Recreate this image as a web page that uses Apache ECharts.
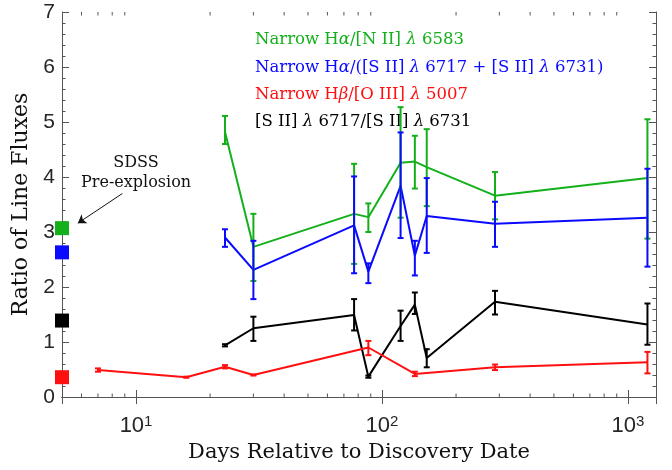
<!DOCTYPE html>
<html>
<head>
<meta charset="utf-8">
<script src="https://cdn.jsdelivr.net/npm/echarts@6/dist/echarts.min.js"></script>
<style>
  html, body { margin: 0; padding: 0; background: #fff; }
  #chart { width: 672px; height: 470px; }
</style>
</head>
<body>
<div id="chart"></div>
<script>
// days since discovery
const days = [23, 30, 77, 88, 119, 136, 152, 288, 1200]
const redDays = [7, 16, 23, 30, 88, 136, 288, 1200]

// Narrow Ha/[N II]
const greenVals = [4.82, 2.73, 3.33, 3.27, 4.26, 4.28, 4.18, 3.66, 3.98]
const greenLo = [4.60, 2.11, 2.42, 3.00, 3.26, 3.79, 3.47, 3.23, 2.88]
const greenHi = [5.11, 3.33, 4.24, 3.52, 5.27, 4.75, 4.87, 4.09, 5.05]

// Narrow Ha/([S II]+[S II])
const blueVals = [2.90, 2.31, 3.12, 2.28, 3.84, 2.57, 3.29, 3.15, 3.26]
const blueLo = [2.73, 1.78, 2.25, 2.07, 2.89, 2.21, 2.62, 2.73, 2.37]
const blueHi = [3.05, 2.84, 4.01, 2.43, 4.81, 2.84, 3.98, 3.55, 4.15]

// [S II]/[S II]
const blackVals = [0.94, 1.25, 1.49, 0.37, 1.29, 1.68, 0.71, 1.73, 1.32]
const blackLo = [0.92, 1.02, 1.21, 0.35, 1.02, 1.51, 0.54, 1.50, 0.95]
const blackHi = [0.96, 1.46, 1.78, 0.39, 1.57, 1.90, 0.87, 1.93, 1.70]

// Narrow Hb/[O III]
const redVals = [0.49, 0.36, 0.55, 0.40, 0.90, 0.42, 0.54, 0.63]
const redLo = [0.46, 0.35, 0.52, 0.39, 0.76, 0.38, 0.49, 0.43]
const redHi = [0.52, 0.37, 0.58, 0.41, 1.02, 0.46, 0.59, 0.82]

// SDSS pre-explosion values (green, blue, black, red)
const sdssDay = 5
const sdssVals = [3.07, 2.63, 1.39, 0.36]

const seriesNames = [
  'Narrow Hα/[N II] λ 6583',
  'Narrow Hα/([S II] λ 6717 + [S II] λ 6731)',
  'Narrow Hβ/[O III] λ 5007',
  '[S II] λ 6717/[S II] λ 6731'
]
const colors = ['#13b01c', '#0a0aff', '#ff1010', '#000000']

const yTicks = [0, 1, 2, 3, 4, 5, 6, 7]
const xMinorTicks = [6, 7, 8, 9, 20, 30, 40, 50, 60, 70, 80, 90, 200, 300, 400, 500, 600, 700, 800, 900]

const serif = '"DejaVu Serif", serif'
const sans = '"Liberation Sans", Arial, sans-serif'
const axisColor = '#555'
const labelColor = '#262626'

const pairs = (xs, ys) => xs.map((x, i) => [x, ys[i]])
const bars = (xs, lo, hi) => xs.map((x, i) => [x, lo[i], hi[i]])

const lineSeries = (name, color, data) => ({
  name,
  type: 'line',
  data,
  symbol: 'none',
  lineStyle: { color, width: 2 },
  itemStyle: { color },
  z: 3
})

const errorSeries = (color, data) => ({
  type: 'custom',
  data,
  encode: { x: 0, y: [1, 2] },
  z: 4,
  renderItem: (params, api) => {
    const x = api.value(0)
    const top = api.coord([x, api.value(2)])
    const bot = api.coord([x, api.value(1)])
    const w = 3
    const style = { stroke: color, lineWidth: 2 }
    return {
      type: 'group',
      children: [
        { type: 'line', shape: { x1: top[0], y1: top[1], x2: bot[0], y2: bot[1] }, style },
        { type: 'line', shape: { x1: top[0] - w, y1: top[1], x2: top[0] + w, y2: top[1] }, style },
        { type: 'line', shape: { x1: bot[0] - w, y1: bot[1], x2: bot[0] + w, y2: bot[1] }, style }
      ]
    }
  }
})

const legendRich = {}
colors.forEach((c, i) => {
  legendRich['i' + i] = { color: c, fontFamily: serif, fontSize: 16.5, fontStyle: 'italic', lineHeight: 20 }
})

const xLabel = (v) => {
  const e = Math.round(Math.log10(v))
  if (Math.abs(v - Math.pow(10, e)) > 1e-6 || e < 1) return ''
  return '{b|10}{s|' + e + '}'
}

const chart = echarts.init(document.getElementById('chart'))

chart.setOption({
  animation: false,
  grid: { left: 62, right: 16, top: 12, bottom: 73 },
  legend: {
    orient: 'vertical',
    left: 245,
    top: 25,
    icon: 'none',
    itemWidth: 0,
    itemHeight: 20,
    itemGap: 7.3,
    selectedMode: false,
    data: seriesNames.map((n, i) => ({ name: n, textStyle: { color: colors[i] } })),
    formatter: (name) => {
      const k = seriesNames.indexOf(name)
      return name.replace(/([αβλ])/g, '{i' + k + '|$1}')
    },
    textStyle: { fontFamily: serif, fontSize: 16.5, lineHeight: 20, rich: legendRich }
  },
  xAxis: [
    {
      type: 'log',
      logBase: 10,
      min: 5,
      max: 1300,
      name: 'Days Relative to Discovery Date',
      nameLocation: 'middle',
      nameGap: 43,
      nameTextStyle: { fontFamily: serif, fontSize: 21, color: '#111' },
      axisLine: { lineStyle: { color: axisColor, width: 1 } },
      axisTick: { inside: true, length: 7, lineStyle: { color: axisColor } },
      splitLine: { show: false },
      axisLabel: {
        margin: 17,
        formatter: xLabel,
        rich: {
          b: { fontFamily: sans, fontSize: 22, color: labelColor, lineHeight: 24 },
          s: { fontFamily: sans, fontSize: 15, color: labelColor, verticalAlign: 'top', lineHeight: 14 }
        }
      }
    },
    {
      type: 'log',
      logBase: 10,
      min: 5,
      max: 1300,
      position: 'top',
      axisLine: { lineStyle: { color: axisColor, width: 1 } },
      axisTick: { inside: true, length: 7, lineStyle: { color: axisColor } },
      axisLabel: { show: false },
      splitLine: { show: false }
    }
  ],
  yAxis: [
    {
      type: 'value',
      min: yTicks[0],
      max: yTicks[yTicks.length - 1],
      interval: 1,
      name: 'Ratio of Line Fluxes',
      nameLocation: 'middle',
      nameGap: 25,
      nameTextStyle: { fontFamily: serif, fontSize: 22, color: '#111' },
      axisLine: { show: true, lineStyle: { color: axisColor, width: 1 } },
      axisTick: { show: true, inside: true, length: 7, lineStyle: { color: axisColor } },
      minorTick: { show: true, splitNumber: 5, length: 3.5, lineStyle: { color: axisColor } },
      splitLine: { show: false },
      axisLabel: { margin: 7, fontFamily: sans, fontSize: 21, color: labelColor }
    },
    {
      type: 'value',
      min: yTicks[0],
      max: yTicks[yTicks.length - 1],
      interval: 1,
      position: 'right',
      axisLine: { show: true, lineStyle: { color: axisColor, width: 1 } },
      axisTick: { show: true, inside: true, length: 7, lineStyle: { color: axisColor } },
      minorTick: { show: true, splitNumber: 5, length: 3.5, lineStyle: { color: axisColor } },
      splitLine: { show: false },
      axisLabel: { show: false }
    }
  ],
  series: [
    // log minor ticks on bottom and top edges
    {
      type: 'custom',
      data: xMinorTicks.map(v => [v]),
      silent: true,
      z: 1,
      renderItem: (params, api) => {
        const v = api.value(0)
        const b = api.coord([v, yTicks[0]])
        const t = api.coord([v, yTicks[yTicks.length - 1]])
        const style = { stroke: axisColor, lineWidth: 1 }
        return {
          type: 'group',
          children: [
            { type: 'line', shape: { x1: b[0], y1: b[1], x2: b[0], y2: b[1] - 3.5 }, style },
            { type: 'line', shape: { x1: t[0], y1: t[1], x2: t[0], y2: t[1] + 3.5 }, style }
          ]
        }
      }
    },
    lineSeries(seriesNames[0], colors[0], pairs(days, greenVals)),
    errorSeries(colors[0], bars(days, greenLo, greenHi)),
    lineSeries(seriesNames[1], colors[1], pairs(days, blueVals)),
    errorSeries(colors[1], bars(days, blueLo, blueHi)),
    lineSeries(seriesNames[3], colors[3], pairs(days, blackVals)),
    errorSeries(colors[3], bars(days, blackLo, blackHi)),
    lineSeries(seriesNames[2], colors[2], pairs(redDays, redVals)),
    errorSeries(colors[2], bars(redDays, redLo, redHi)),
    {
      type: 'scatter',
      clip: false,
      symbol: 'rect',
      symbolSize: 14,
      z: 5,
      data: sdssVals.map((v, i) => ({
        value: [sdssDay, v],
        itemStyle: { color: [colors[0], colors[1], colors[3], colors[2]][i], opacity: 1 }
      })),
      markPoint: {
        symbol: 'circle',
        symbolSize: 0,
        label: {
          show: true,
          position: 'inside',
          formatter: 'SDSS\nPre-explosion',
          fontFamily: serif,
          fontSize: 16,
          lineHeight: 20,
          color: '#111',
          align: 'center'
        },
        data: [{ coord: [10, 4.08] }]
      },
      markLine: {
        silent: true,
        symbol: ['none', 'arrow'],
        symbolSize: 8,
        label: { show: false },
        lineStyle: { color: '#111', width: 1, type: 'solid' },
        data: [[{ coord: [8.8, 3.7] }, { coord: [5.8, 3.16] }]]
      }
    }
  ]
})
</script>
</body>
</html>
